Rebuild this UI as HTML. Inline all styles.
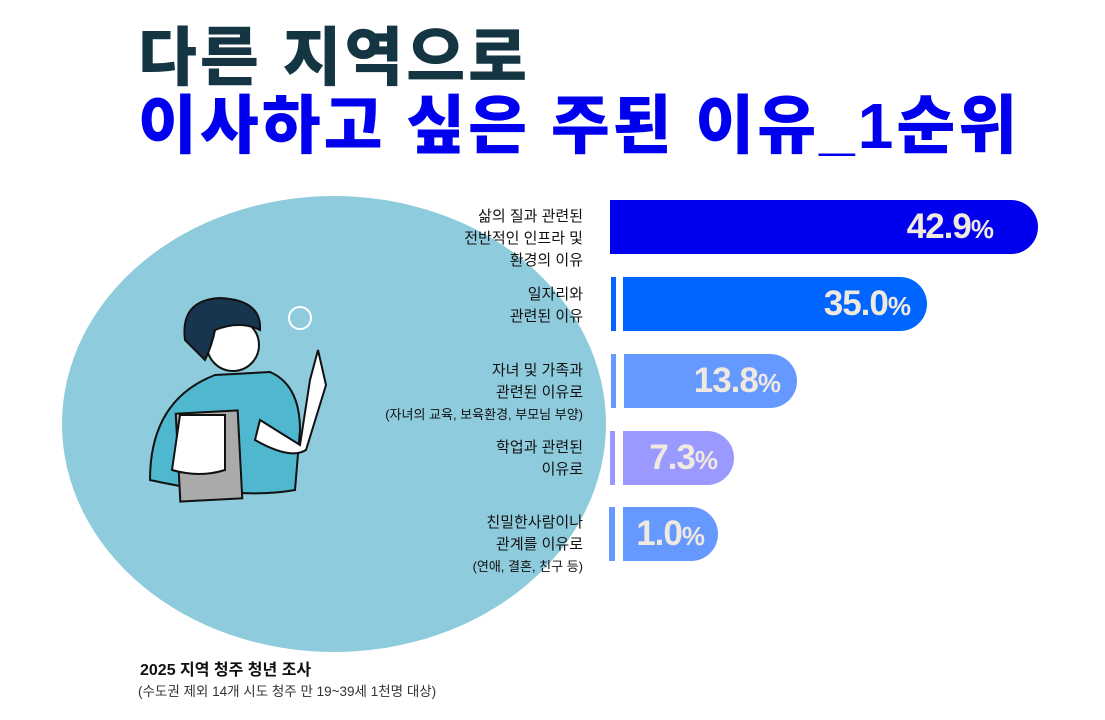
<!DOCTYPE html>
<html><head><meta charset="utf-8"><style>
body{margin:0;width:1105px;height:720px;background:#fff;position:relative;overflow:hidden;font-family:"Liberation Sans","Noto Sans CJK KR",sans-serif}
.t{position:absolute;left:138px;font-weight:900;font-size:64px;letter-spacing:3px;line-height:1}
.bar{position:absolute;border-radius:0 28px 28px 0;color:#efe9e0;font-weight:bold;font-size:35px;text-align:right;box-sizing:border-box;line-height:54px;letter-spacing:-1px}
.bar small{font-size:26px}
.st{position:absolute;width:5px;height:54px}
.lb{position:absolute;right:522px;text-align:right;font-size:15px;line-height:22px;color:#111}
</style></head><body>
<div class="t" style="top:26px;color:#143542">다른 지역으로</div>
<div class="t" style="top:94px;color:#0000ee">이사하고 싶은 주된 이유_1순위</div>
<svg style="position:absolute;left:0;top:0" width="1105" height="720">
<ellipse cx="334" cy="424" rx="272" ry="228" fill="#8ecbdc"/>
<path d="M150 480 Q150 400 215 375 L270 372 Q300 385 300 430 L295 490 Q240 500 150 480Z" fill="#4fb8cf" stroke="#111" stroke-width="2"/>
<path d="M260 420 L300 445 L310 380 L318 350 L326 385 L306 450 Q290 460 255 440Z" fill="#fff" stroke="#111" stroke-width="2"/>
<rect x="178" y="412" width="62" height="88" fill="#aaa" stroke="#111" stroke-width="2" transform="rotate(-3 209 456)"/>
<path d="M180 415 L225 415 L225 470 Q200 478 172 470Z" fill="#fff" stroke="#111" stroke-width="2"/>
<circle cx="233" cy="345" r="26" fill="#fff" stroke="#111" stroke-width="2"/>
<path d="M185 340 Q180 300 220 298 Q262 300 260 330 Q240 320 215 330 Q212 345 205 360Z" fill="#183550" stroke="#111" stroke-width="2"/>
<circle cx="300" cy="318" r="11" fill="none" stroke="#fff" stroke-width="2"/>
</svg>
<div class="lb" style="top:206px">삶의 질과 관련된<br>전반적인 인프라 및<br>환경의 이유</div>
<div class="lb" style="top:284px">일자리와<br>관련된 이유</div>
<div class="lb" style="top:360px">자녀 및 가족과<br>관련된 이유로<br><span style="font-size:13px">(자녀의 교육, 보육환경, 부모님 부양)</span></div>
<div class="lb" style="top:437px">학업과 관련된<br>이유로</div>
<div class="lb" style="top:512px">친밀한사람이나<br>관계를 이유로<br><span style="font-size:13px">(연애, 결혼, 친구 등)</span></div>
<div class="bar" style="left:610px;top:200px;width:428px;height:54px;background:#0000ee;padding-right:45px">42.9<small>%</small></div>
<div class="st" style="left:611px;top:277px;background:#0066ff"></div>
<div class="bar" style="left:623px;top:277px;width:304px;height:54px;background:#0066ff;padding-right:17px">35.0<small>%</small></div>
<div class="st" style="left:611px;top:354px;background:#6699ff"></div>
<div class="bar" style="left:624px;top:354px;width:173px;height:54px;background:#6699ff;padding-right:17px">13.8<small>%</small></div>
<div class="st" style="left:610px;top:431px;background:#9999ff"></div>
<div class="bar" style="left:623px;top:431px;width:111px;height:54px;background:#9999ff;padding-right:17px">7.3<small>%</small></div>
<div class="st" style="left:609px;top:507px;width:6px;background:#6699ff"></div>
<div class="bar" style="left:623px;top:507px;width:95px;height:54px;background:#6699ff;padding-right:14px">1.0<small>%</small></div>
<div style="position:absolute;left:140px;top:656px;font-size:16px;font-weight:bold;color:#111">2025 지역 청주 청년 조사</div>
<div style="position:absolute;left:138px;top:680px;font-size:13.5px;color:#333">(수도권 제외 14개 시도 청주 만 19~39세 1천명 대상)</div>
</body></html>
